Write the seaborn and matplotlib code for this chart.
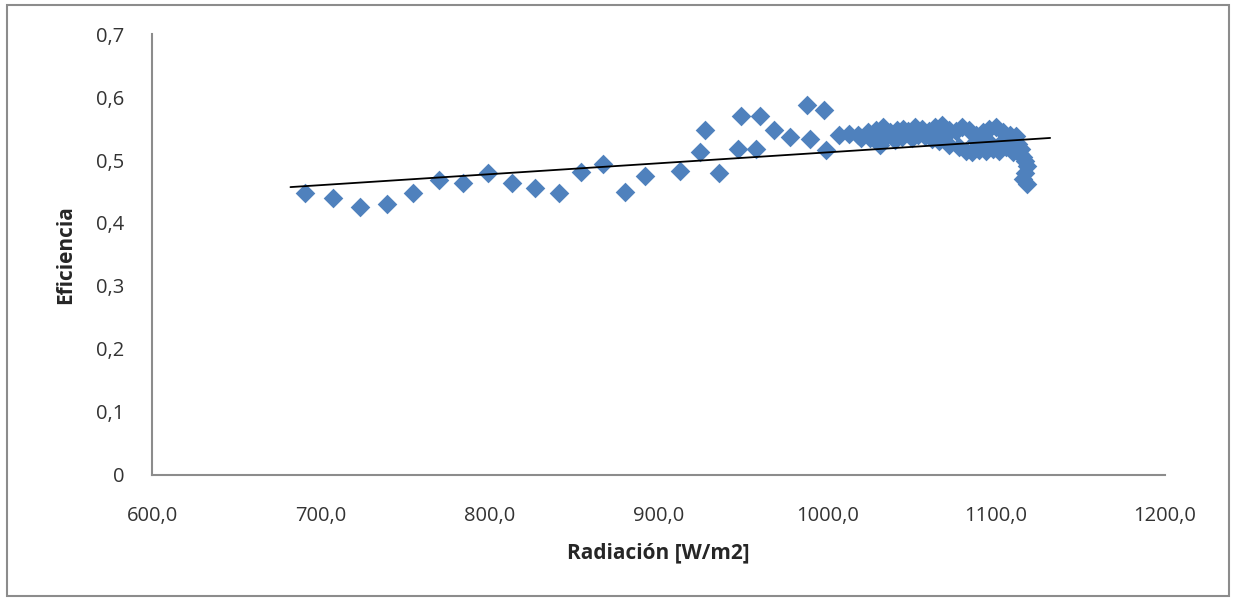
import numpy as np
import pandas as pd
import matplotlib
matplotlib.use("Agg")
import matplotlib.pyplot as plt
import seaborn as sns
from matplotlib.ticker import FuncFormatter
from matplotlib.patches import Rectangle

# values
radiacion = [
    690.7, 707, 723, 739, 754.5, 769.7, 784, 799.3, 813, 827, 841, 854.3,
    867, 880, 892, 913, 924.4, 927.4, 935.7, 947, 949, 958, 960, 968.3,
    978, 988, 990, 998, 999,
    # dense part, upper row
    1007, 1013, 1018, 1024, 1029, 1033, 1037, 1041, 1045, 1048, 1052, 1056,
    1060, 1064, 1068, 1072, 1076, 1080, 1084, 1088, 1092, 1096, 1100, 1104,
    1108, 1112,
    # dense part, middle row
    1020, 1035, 1044, 1054, 1062, 1070, 1088, 1096, 1104,
    # dense part, lower row
    1025, 1031, 1040, 1050, 1058, 1066, 1072, 1078, 1082, 1086, 1090, 1094,
    1098, 1102, 1106, 1110, 1114,
    # tail at max radiation
    1113, 1115, 1116, 1117, 1118, 1117, 1116, 1118,
]
eficiencia = [
    0.447, 0.440, 0.425, 0.430, 0.447, 0.469, 0.463, 0.480, 0.463, 0.456,
    0.447, 0.481, 0.493, 0.449, 0.475, 0.483, 0.513, 0.547, 0.480, 0.518,
    0.570, 0.517, 0.570, 0.548, 0.537, 0.588, 0.533, 0.579, 0.516,
    0.540, 0.542, 0.540, 0.545, 0.548, 0.552, 0.545, 0.548, 0.550, 0.546,
    0.552, 0.549, 0.546, 0.552, 0.555, 0.548, 0.546, 0.552, 0.548, 0.540,
    0.545, 0.550, 0.552, 0.545, 0.540, 0.538,
    0.535, 0.538, 0.536, 0.540, 0.534, 0.538, 0.530, 0.528, 0.530,
    0.535, 0.524, 0.532, 0.535, 0.538, 0.530, 0.524, 0.520, 0.515, 0.512,
    0.516, 0.514, 0.518, 0.515, 0.520, 0.512, 0.510,
    0.525, 0.518, 0.505, 0.498, 0.490, 0.480, 0.470, 0.462,
]
# excel linear trendline, read at its two ends
trend_x = [682, 1132]
trend_y = [0.457, 0.535]

x_ticks = [600, 700, 800, 900, 1000, 1100, 1200]
y_ticks = [0, 0.1, 0.2, 0.3, 0.4, 0.5, 0.6, 0.7]

df = pd.DataFrame({"rad": radiacion, "ef": eficiencia})

sns.set_style("white")
plt.rcParams["font.family"] = ["Open Sans", "DejaVu Sans"]

fig = plt.figure(figsize=(12.36, 6.01), dpi=100)
ax = fig.add_axes([0.123, 0.2097, 0.8195, 0.7337])

sns.scatterplot(data=df, x="rad", y="ef", ax=ax, marker="D", s=100,
                color="#4F81BD", linewidth=0, zorder=2)
sns.lineplot(x=trend_x, y=trend_y, ax=ax, color="black", lw=1.3, zorder=3)

ax.set_xlim(x_ticks[0], x_ticks[-1])
ax.set_ylim(y_ticks[0], y_ticks[-1])
ax.set_xticks(x_ticks)
ax.set_yticks(y_ticks)
ax.xaxis.set_major_formatter(FuncFormatter(lambda v, p: f"{v:.1f}".replace(".", ",")))
ax.yaxis.set_major_formatter(FuncFormatter(
    lambda v, p: "0" if abs(v) < 1e-9 else f"{v:.1f}".replace(".", ",")))

ax.tick_params(axis="x", length=0, pad=22, labelsize=14.5, labelcolor="#333333")
ax.tick_params(axis="y", length=3, width=1, direction="out", pad=17,
               labelsize=14.5, labelcolor="#333333", color="#BFBFBF")

sns.despine(ax=ax)
for side in ["left", "bottom"]:
    ax.spines[side].set_color("#8C8C8C")
    ax.spines[side].set_linewidth(1.5)

ax.set_xlabel("Radiación [W/m2]", fontsize=15, fontweight="bold",
              color="#262626", labelpad=12)
ax.set_ylabel("Eficiencia", fontsize=15, fontweight="bold",
              color="#262626", labelpad=14)

fig.patches.append(Rectangle((0.006, 0.008), 0.988, 0.983, transform=fig.transFigure,
                             fill=False, edgecolor="#8C8C8C", linewidth=1.5))

fig.savefig("out.png", dpi=100)
